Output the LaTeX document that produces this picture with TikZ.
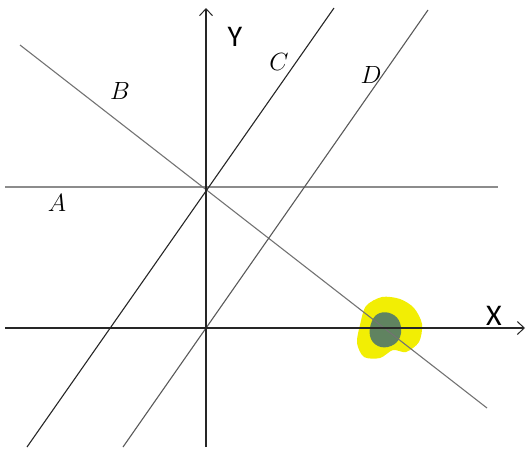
\documentclass[tikz,border=0pt]{standalone}
\usepackage{fontspec}
\newfontfamily\axfont{Carlito}
\usetikzlibrary{arrows.meta}
\begin{document}
\begin{tikzpicture}[x=1pt,y=-1pt,
  axis/.style={line width=1.1pt,black!85,-{Straight Barb[length=7pt,width=13pt,line width=1pt]}},
  ln/.style={line width=1.1pt},
  lbl/.style={font=\fontsize{26}{30}\selectfont},
  axlbl/.style={font=\axfont\fontsize{30}{34}\selectfont}]
\useasboundingbox (0,0) rectangle (527,450);
% highlight
\fill[yellow!95!green] plot[smooth cycle,tension=0.5] coordinates {(366,306) (382,297) (400,299) (414,308) (422,324) (419,342) (406,352) (393,350) (380,358) (364,357) (357,343) (360,325)};
\fill[black!45!green!25!gray] plot[smooth cycle,tension=0.7] coordinates {(372,321) (380,313) (392,314) (400,323) (400,337) (391,346) (378,346) (370,336)};
% coordinates
\coordinate (yb) at (206,447); \coordinate (yt) at (206,8);
\coordinate (xl) at (5,328); \coordinate (xr) at (525,328);
\coordinate (al) at (5,187); \coordinate (ar) at (498,187);
\coordinate (bl) at (20,45); \coordinate (br) at (487,408);
\coordinate (cl) at (27,447); \coordinate (cr) at (334,8);
\coordinate (dl) at (123,447); \coordinate (dr) at (428,10);
% lines
\draw[ln,black!45] (al) -- (ar);
\draw[ln,black!55] (bl) -- (br);
\draw[ln,black!85] (cl) -- (cr);
\draw[ln,black!65] (dl) -- (dr);
\draw[axis] (yb) -- (yt);
\draw[axis] (xl) -- (xr);
% labels
\node[lbl] (A) at (57,203) {$A$};
\node[lbl] (B) at (120,91) {$B$};
\node[lbl] (C) at (279,62) {$C$};
\node[lbl] (D) at (371,75) {$D$};
\node[axlbl] (Y) at (235,37) {Y};
\node[axlbl] (X) at (494,316) {X};
\end{tikzpicture}
\end{document}
